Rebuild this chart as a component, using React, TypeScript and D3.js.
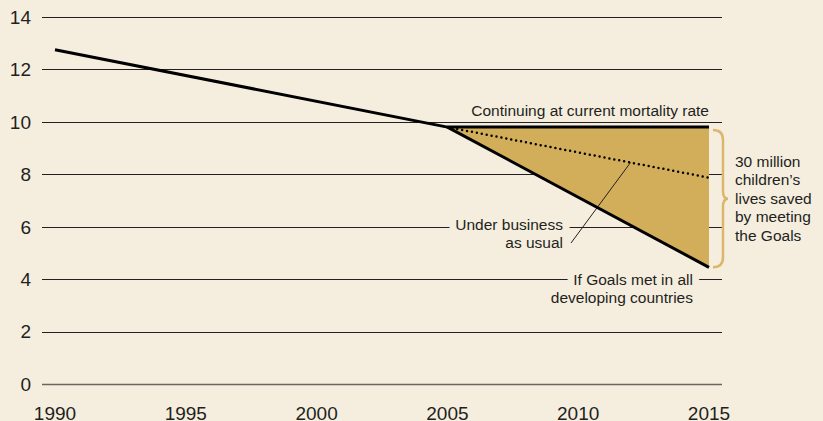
import React from "react";
import * as d3 from "d3";

// under-five deaths, millions
const histYears = [1990, 2005];
const histValues = [12.75, 9.8];
const projYears = [2005, 2015];
const currentRate = [9.8, 9.8];
const businessAsUsual = [9.8, 7.87];
const goalsMet = [9.8, 4.45];
const yTicks = [0, 2, 4, 6, 8, 10, 12, 14];
const xTicks = [1990, 1995, 2000, 2005, 2010, 2015];
const savedLines = ["30 million", "children\u2019s", "lives saved", "by meeting", "the Goals"];

const W = 823, H = 421;
const BG = "#f5eedf";
const INK = "#231f20";
const GOLD = "#d3ae5a";
const FONT = "'Liberation Sans', Arial, sans-serif";
const NOTE = 15.5;

const x = d3.scaleLinear().domain([1990, 2015]).range([55, 709]);
const y = d3.scaleLinear().domain([0, 14]).range([384, 17]);

const App = () => {
  const line = d3.line<[number, number]>().x(d => x(d[0])).y(d => y(d[1]));
  const pts = (xs: number[], vs: number[]) => xs.map((v, i) => [v, vs[i]] as [number, number]);

  // area between "current rate" and "goals met"
  const area = d3.area<number>()
    .x(d => x(d))
    .y0((d, i) => y(currentRate[i]))
    .y1((d, i) => y(goalsMet[i]))(projYears);

  // leader from "Under business as usual" to the dotted line at 2012
  const bau = d3.scaleLinear().domain(projYears).range(businessAsUsual);
  const leadX = x(2012), leadY = y(bau(2012));

  const x0 = 42, x1 = 722;
  const yTop = y(currentRate[1]) + 3, yBot = y(goalsMet[1]);
  const yMid = (yTop + yBot) / 2;
  const bx = 716;
  const brace = `M${bx - 3},${yTop} Q${bx + 7},${yTop} ${bx + 7},${yTop + 10} L${bx + 7},${yMid - 8}
    Q${bx + 7},${yMid} ${bx + 12},${yMid} Q${bx + 7},${yMid} ${bx + 7},${yMid + 8}
    L${bx + 7},${yBot - 10} Q${bx + 7},${yBot} ${bx - 3},${yBot}`;

  const halo = { stroke: BG, strokeWidth: 14, paintOrder: "stroke" as const, strokeLinejoin: "round" as const };

  return (
    <div style={{ position: "fixed", left: 0, top: 0, width: W, height: H, background: BG }}>
      <svg width={W} height={H} style={{ display: "block", fontFamily: FONT }}>
        <rect width={W} height={H} fill={BG} />
        {yTicks.map(t => (
          <g key={t}>
            <line x1={x0} x2={x1} y1={Math.round(y(t)) + 0.5} y2={Math.round(y(t)) + 0.5}
              stroke={t === 0 ? "#6b665e" : INK} strokeWidth={t === 0 ? 1.5 : 1} />
            <text x={31} y={y(t)} dy="0.36em" textAnchor="end" fontSize={19} fill={INK}>{t}</text>
          </g>
        ))}
        {xTicks.map(t => (
          <text key={t} x={x(t)} y={420} textAnchor="middle" fontSize={19} fill={INK}>{t}</text>
        ))}

        <text x={563} y={230} textAnchor="end" fontSize={NOTE} fill={INK} {...halo}>Under business</text>
        <text x={563} y={248} textAnchor="end" fontSize={NOTE} fill={INK}>as usual</text>
        <text x={693} y={285} textAnchor="end" fontSize={NOTE} fill={INK} {...halo}>If Goals met in all</text>
        <text x={693} y={303} textAnchor="end" fontSize={NOTE} fill={INK}>developing countries</text>
        <text x={709} y={116} textAnchor="end" fontSize={NOTE} fill={INK}>Continuing at current mortality rate</text>

        <path d={area || ""} fill={GOLD} />
        <line x1={571} y1={243} x2={leadX} y2={leadY} stroke={INK} strokeWidth={1} />

        <path d={line(pts(histYears, histValues)) || ""} fill="none" stroke="#000" strokeWidth={3} />
        <path d={line(pts(projYears, currentRate)) || ""} fill="none" stroke="#000" strokeWidth={3} />
        <path d={line(pts(projYears, goalsMet)) || ""} fill="none" stroke="#000" strokeWidth={3} />
        <path d={line(pts(projYears, businessAsUsual)) || ""} fill="none" stroke="#000" strokeWidth={2.5}
          strokeDasharray="0 5" strokeLinecap="round" />

        <path d={brace} fill="none" stroke="#dbb66b" strokeWidth={2.5} />
        {savedLines.map((s, i) => (
          <text key={s} x={735} y={167 + i * 18.4} fontSize={NOTE} fill={INK}>{s}</text>
        ))}
      </svg>
    </div>
  );
};

export default App;
